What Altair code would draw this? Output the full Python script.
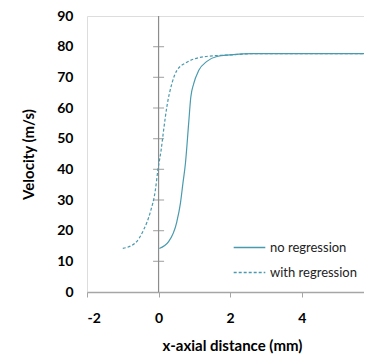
import altair as alt
import pandas as pd

# Data
no_reg_x = [0.02, 0.28, 0.51, 0.61, 0.68, 0.75, 0.84, 0.90, 0.98, 1.12, 1.35, 1.63, 2.0, 2.6, 6.0]
no_reg_y = [14.2, 16.4, 22.9, 28.9, 35.4, 41.9, 54.9, 63.5, 67.9, 72.2, 75.2, 76.8, 77.3, 77.7, 77.7]

with_reg_x = [-1.0, -0.65, -0.42, -0.23, -0.09, -0.02, 0.07, 0.14, 0.23, 0.37, 0.51, 0.79, 1.16, 1.63, 2.0, 2.6, 6.0]
with_reg_y = [14.2, 16.0, 20.2, 26.1, 33.2, 39.7, 46.2, 52.7, 60.3, 67.9, 72.2, 74.9, 76.5, 77.1, 77.3, 77.7, 77.7]

series_names = ["no regression", "with regression"]
x_ticks = [-2, 0, 2, 4, 6]
y_ticks = [0, 10, 20, 30, 40, 50, 60, 70, 80, 90]
cross_ticks = [10, 20, 30, 40, 50, 60, 70, 80]
y_axis_cross = [0]
x_visible = [-2, 5.74]   # the reference's plot area runs past the window's right edge

rows = []
for i, (x, y) in enumerate(zip(no_reg_x, no_reg_y)):
    rows.append({"x": x, "y": y, "series": series_names[0], "order": i})
for i, (x, y) in enumerate(zip(with_reg_x, with_reg_y)):
    rows.append({"x": x, "y": y, "series": series_names[1], "order": i})
df = pd.DataFrame(rows)

FONT = "Lato"
TEAL = "#4a9aae"
GRAY = "#a6a6a6"

xscale = alt.Scale(domain=x_visible, nice=False, zero=False)
yscale = alt.Scale(domain=[0, 90], nice=False)

x_axis = alt.Axis(values=x_ticks, title="x-axial distance (mm)", grid=False,
                  labelExpr="'' + datum.value",
                  domainColor=GRAY, domainWidth=1.5, tickColor=GRAY, tickSize=5,
                  labelFont=FONT, labelFontWeight="bold", labelFontSize=14,
                  labelColor="black", labelPadding=14, labelOverlap=False,
                  titleFont=FONT, titleFontWeight="bold", titleFontSize=15,
                  titleColor="black", titlePadding=13, titleX=145)
y_axis = alt.Axis(values=y_ticks, title="Velocity (m/s)", grid=False,
                  domain=False, ticks=False, labelPadding=14, labelOverlap=False,
                  labelFont=FONT, labelFontWeight="bold", labelFontSize=14,
                  labelColor="black",
                  titleFont=FONT, titleFontWeight="bold", titleFontSize=15,
                  titleColor="black", titlePadding=20)

legend_cfg = dict(title=None, orient="none", legendX=146, legendY=220,
                  symbolType="stroke", symbolSize=1000, symbolStrokeWidth=1.3,
                  symbolStrokeColor=TEAL,
                  clipHeight=23, labelFont=FONT, labelFontSize=13, labelColor="#222222",
                  labelOffset=4, padding=0)

lines = alt.Chart(df).mark_line(strokeWidth=1.2, clip=True, interpolate="monotone").encode(
    x=alt.X("x:Q", scale=xscale, axis=x_axis),
    y=alt.Y("y:Q", scale=yscale, axis=y_axis),
    color=alt.Color("series:N", scale=alt.Scale(domain=series_names, range=[TEAL, TEAL]),
                    legend=alt.Legend(**legend_cfg)),
    strokeDash=alt.StrokeDash("series:N",
                              scale=alt.Scale(domain=series_names, range=[[1000, 0], [3, 2]]),
                              legend=alt.Legend(**legend_cfg)),
    order="order:Q",
)

axis_line = alt.Chart(pd.DataFrame({"x": y_axis_cross})).mark_rule(
    color="#8c8c8c", strokeWidth=1.2).encode(x=alt.X("x:Q", scale=xscale, axis=x_axis))

cross = alt.Chart(pd.DataFrame({"x": [0] * len(cross_ticks), "y": cross_ticks})).mark_tick(
    orient="horizontal", size=11, thickness=1.2, color="#8c8c8c").encode(
    x=alt.X("x:Q", scale=xscale, axis=x_axis), y=alt.Y("y:Q", scale=yscale, axis=y_axis))

chart = alt.layer(axis_line, cross, lines).properties(
    width=277, height=276,
    autosize=alt.AutoSizeParams(type="none"),
    padding={"left": 79, "top": 8, "right": 0, "bottom": 62},
).configure_view(stroke=GRAY, strokeWidth=1.5).configure(background="white")

chart.save("out.html", embed_options={"renderer": "svg", "actions": False})
